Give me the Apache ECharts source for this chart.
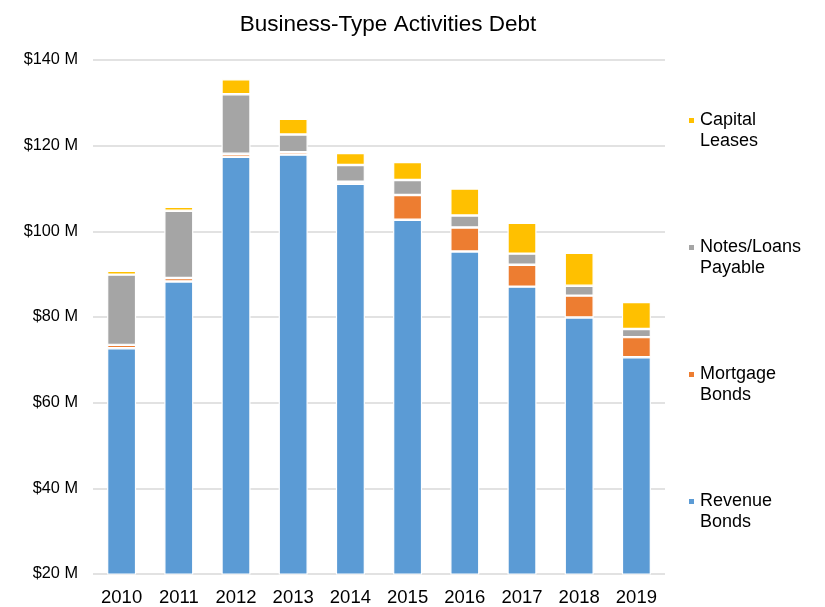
<!DOCTYPE html>
<html>
<head>
<meta charset="utf-8">
<script src="https://cdn.jsdelivr.net/npm/echarts@6/dist/echarts.min.js"></script>
<style>
  html, body { margin: 0; padding: 0; background: #fff; }
  #chart { width: 825px; height: 607px; }
</style>
</head>
<body>
<div id="chart"></div>
<script>
// values in $ millions
const years = ['2010', '2011', '2012', '2013', '2014', '2015', '2016', '2017', '2018', '2019']
const revenueBonds = [72.7, 88.3, 117.4, 117.9, 111.1, 102.7, 95.3, 87.1, 79.9, 70.6]
const mortgageBonds = [0.8, 0.8, 0.7, 0.6, 0.5, 5.8, 5.6, 5.1, 5.1, 4.7]
const notesLoans = [16.4, 15.7, 13.9, 4.1, 3.9, 3.5, 2.8, 2.6, 2.3, 1.9]
const capitalLeases = [0.9, 0.9, 3.5, 3.7, 2.8, 4.2, 6.3, 7.2, 7.7, 6.3]
const yTicks = { min: 20, max: 140, interval: 20 }

const chart = echarts.init(document.getElementById('chart'))

function barSeries(name, data, color) {
    return {
        name: name,
        type: 'bar',
        stack: 'debt',
        data: data,
        barWidth: 29,
        itemStyle: {
            color: color,
            borderColor: '#fff',
            borderWidth: 1.2
        }
    }
}

chart.setOption({
    animation: false,
    textStyle: { fontFamily: 'Liberation Sans, Arial, sans-serif' },
    title: {
        text: 'Business-Type Activities Debt',
        left: 383,
        textAlign: 'center',
        top: 8,
        textStyle: { fontSize: 22.5, fontWeight: 'normal', color: '#000' }
    },
    legend: {
        orient: 'vertical',
        left: 682,
        top: 84,
        itemWidth: 7,
        itemHeight: 7,
        itemGap: 64,
        icon: 'rect',
        data: ['Capital Leases', 'Notes/Loans Payable', 'Mortgage Bonds', 'Revenue Bonds'],
        // empty first line keeps the marker level with the first word
        formatter: function (name) { return '\n' + name.replace(' ', '\n') },
        textStyle: { fontSize: 18, color: '#000', lineHeight: 21 }
    },
    grid: { left: 93, right: 160, top: 60, bottom: 32 },
    xAxis: {
        type: 'category',
        data: years,
        axisLine: { show: false },
        axisTick: { show: false },
        axisLabel: { fontSize: 18.5, color: '#000', margin: 14 }
    },
    yAxis: {
        type: 'value',
        min: yTicks.min,
        max: yTicks.max,
        interval: yTicks.interval,
        axisLine: { show: false },
        axisTick: { show: false },
        axisLabel: {
            fontSize: 16.3,
            color: '#000',
            margin: 15,
            formatter: function (v) { return '$' + v + ' M' }
        },
        splitLine: { lineStyle: { color: '#d9d9d9', width: 1.5 } }
    },
    series: [
        barSeries('Revenue Bonds', revenueBonds, '#5B9BD5'),
        barSeries('Mortgage Bonds', mortgageBonds, '#ED7D31'),
        barSeries('Notes/Loans Payable', notesLoans, '#A5A5A5'),
        barSeries('Capital Leases', capitalLeases, '#FFC000')
    ]
})
</script>
</body>
</html>
